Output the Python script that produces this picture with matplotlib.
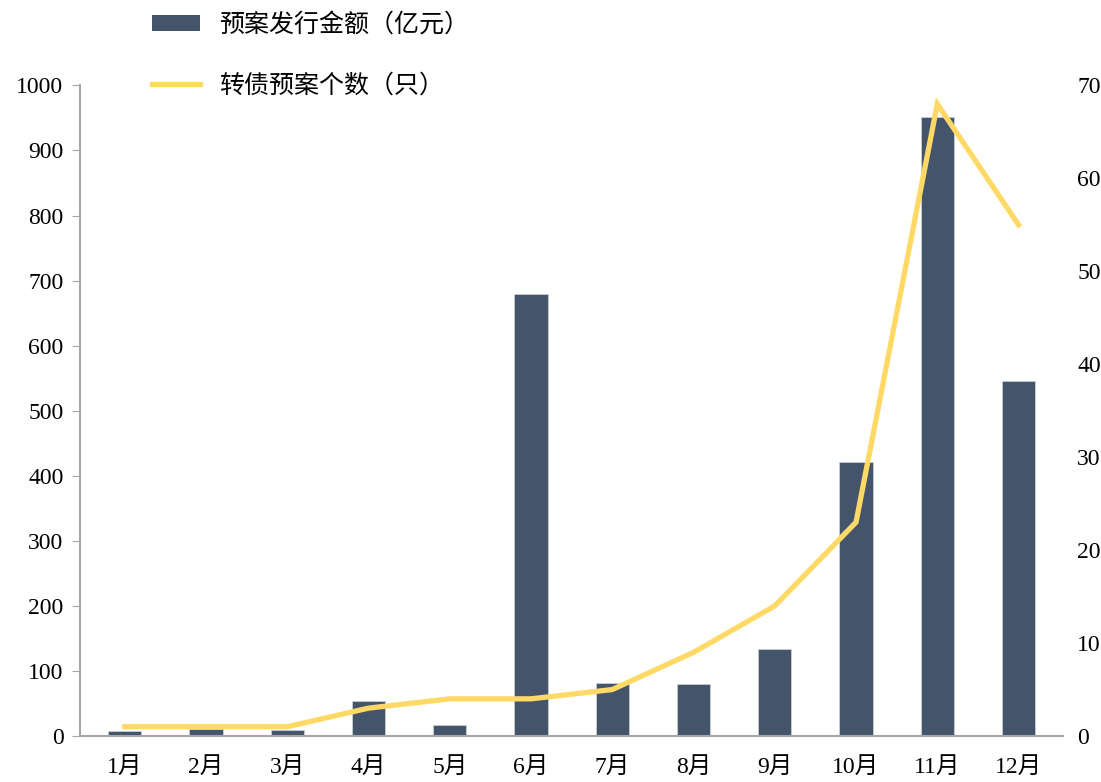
import matplotlib.pyplot as plt
from matplotlib.lines import Line2D
from matplotlib.patches import Patch

plt.rcParams['font.family'] = ['Liberation Serif', 'Noto Sans CJK SC']

# data
months = ['1月', '2月', '3月', '4月', '5月', '6月', '7月', '8月', '9月', '10月', '11月', '12月']
amount = [8, 11, 10, 54, 17, 679, 81, 80, 134, 421, 951, 545]      # 预案发行金额（亿元）
count = [1, 1, 1, 3, 4, 4, 5, 9, 14, 23, 68, 55]                   # 转债预案个数（只）

bar_color = '#44546A'
line_color = '#FFD966'
axis_color = '#A6A6A6'

fig = plt.figure(figsize=(11.01, 7.82), dpi=100)
ax = fig.add_axes([0.0727, 0.0588, 0.893, 0.832])
ax2 = ax.twinx()

x = list(range(len(months)))
ax.bar(x, amount, width=0.41, color=bar_color, edgecolor='#D0D5DC', linewidth=0.5, zorder=2)
ax2.plot(x, count, color=line_color, linewidth=3.8, solid_joinstyle='miter', zorder=3)

#Left axis
ax.set_ylim(0, 1000)
ax.set_yticks(range(0, 1001, 100))
ax.set_xlim(-0.55, len(months) - 0.45)
ax.set_xticks(x)
ax.set_xticklabels(months)
ax.tick_params(axis='y', direction='out', length=6, color=axis_color, labelsize=17, pad=6)
ax.tick_params(axis='x', length=0, labelsize=17, pad=15)
for s in ['top', 'right']:
    ax.spines[s].set_visible(False)
ax.spines['left'].set_color(axis_color)
ax.spines['bottom'].set_color(axis_color)
ax.spines['left'].set_linewidth(1.5)
ax.spines['bottom'].set_linewidth(1.5)

#Right axis
ax2.set_ylim(0, 70)
ax2.set_yticks(range(0, 71, 10))
ax2.tick_params(axis='y', length=0, labelsize=17, pad=10)
for s in ['top', 'right', 'left', 'bottom']:
    ax2.spines[s].set_visible(False)

#Legend at top-left
handles = [Patch(facecolor=bar_color, edgecolor='none'),
           Line2D([0], [0], color=line_color, linewidth=3.8)]
labels = ['预案发行金额（亿元）', '转债预案个数（只）']
fig.legend(handles, labels, loc='upper left', bbox_to_anchor=(0.118, 1.014),
           frameon=False, labelspacing=1.4, handlelength=1.9,
           handleheight=0.6, handletextpad=0.75,
           prop={'family': ['Noto Sans CJK SC'], 'size': 18})

fig.savefig('out.png', dpi=100)
